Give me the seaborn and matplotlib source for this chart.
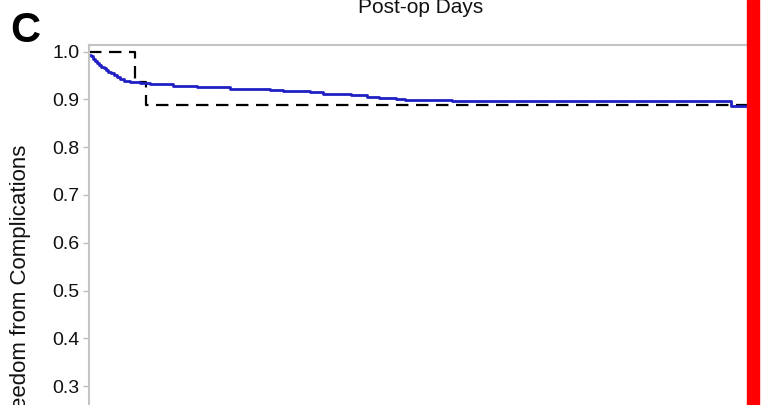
import matplotlib
matplotlib.use("Agg")
import matplotlib.pyplot as plt
from matplotlib.patches import Rectangle
import pandas as pd
import seaborn as sns

# Kaplan-Meier estimate: freedom from complications by post-op day
km_days = [0, 3, 6, 9, 12, 15, 18, 23, 26, 29, 33, 38, 42, 47, 53, 62, 77, 92,
           127, 163, 213, 273, 293, 333, 353, 395, 420, 437, 463, 477, 547, 968, 1000]
km_surv = [0.993, 0.990, 0.985, 0.980, 0.976, 0.972, 0.968, 0.966, 0.962, 0.958,
           0.954, 0.950, 0.946, 0.942, 0.939, 0.937, 0.935, 0.933, 0.928, 0.925,
           0.922, 0.919, 0.917, 0.915, 0.911, 0.909, 0.905, 0.903, 0.901, 0.899,
           0.896, 0.886, 0.886]

# Reference (expected) freedom from complications
ref_days = [0, 69, 86, 1000]
ref_surv = [1.0, 0.936, 0.888, 0.888]

y_ticks = [0.0, 0.1, 0.2, 0.3, 0.4, 0.5, 0.6, 0.7, 0.8, 0.9, 1.0]

km = pd.DataFrame({"day": km_days, "surv": km_surv})
ref = pd.DataFrame({"day": ref_days, "surv": ref_surv})

sns.set_theme(style="white")
plt.rcParams["font.family"] = ["Liberation Sans", "DejaVu Sans"]

fig = plt.figure(figsize=(7.68, 4.05), dpi=100)
ax = fig.add_axes([0.1159, -0.3074, 0.8633, 1.1951])

sns.lineplot(data=ref, x="day", y="surv", ax=ax, color="black", lw=1.6,
             linestyle=(0, (5.6, 3.4)), drawstyle="steps-post",
             estimator=None, sort=False)
sns.lineplot(data=km, x="day", y="surv", ax=ax, color="#1f1fc4", lw=2.0,
             drawstyle="steps-post", estimator=None, sort=False)

ax.set_xlim(0, 1000)
ax.set_ylim(0.0, 1.0126)
ax.set_yticks(y_ticks)
ax.set_yticklabels([f"{v:.1f}" for v in y_ticks])
ax.set_xticks([])
ax.set_xlabel("")
ax.set_ylabel("Freedom from Complications", fontsize=16, color="#111111", labelpad=15)
ax.tick_params(axis="y", which="both", left=True, length=4, width=1,
               color="#bbbbbb", labelsize=14, labelcolor="#111111", pad=3)
for sp in ax.spines.values():
    sp.set_color("#c4c4c4")
    sp.set_linewidth(1.5)

# x-axis title of the panel above
fig.text(0.5475, 1.0 - 13 / 405, "Post-op Days", ha="center", va="baseline",
         fontsize=15, color="#111111")
# panel letter
fig.text(10 / 768, 1.0 - 42 / 405, "C", ha="left", va="baseline",
         fontsize=30, fontweight="bold", color="black")

# red marker bar on the right edge
fig.add_artist(Rectangle((747 / 768, 0), 12 / 768, 1, transform=fig.transFigure,
                         color="#ff0000", zorder=10))

fig.savefig("out.png", dpi=100)
